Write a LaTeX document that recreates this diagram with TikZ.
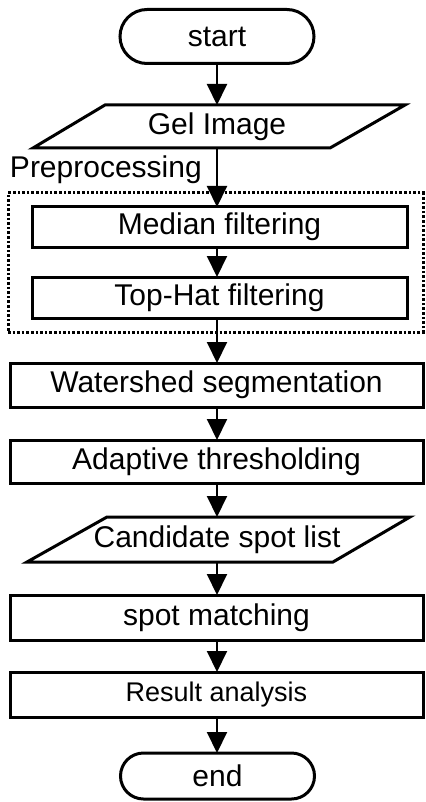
\documentclass[tikz,border=0pt]{standalone}
\usepackage{fontspec}
\setmainfont{Liberation Sans}
\usetikzlibrary{arrows.meta,shapes.misc}
\begin{document}
\begin{tikzpicture}[x=0.5pt,y=-0.5pt,
  every node/.style={font=\fontsize{15}{18}\selectfont,inner sep=0pt,outer sep=0pt},
  proc/.style={draw,line width=1.5pt,rectangle,minimum width=#1},
  proc/.default=206.5pt,
  term/.style={draw,line width=1.5pt,rounded rectangle,minimum width=97pt},
  io/.style={minimum width=120pt},
  flow/.style={line width=1pt,-{Triangle[length=10.5pt,width=10pt]}},
  grp/.style={draw,line width=1.5pt,dash pattern=on 1.3pt off 1pt,rectangle}
]
\useasboundingbox (0,0) rectangle (425,802);
% group box
\node[grp,minimum width=207.5pt,minimum height=69.5pt] (pre) at (215.5,262.5) {};
\node[anchor=base west] (prelabel) at (10,178) {Preprocessing};
% nodes
\node[term,minimum height=27pt] (start) at (217,36.5) {start};
\node[io,minimum height=21.5pt] (gel) at (217,126.5) {Gel Image};
\draw[line width=1.5pt] (105,105) -- (405,105) -- (330,148) -- (33,148) -- cycle;
\node[proc=187.5pt,minimum height=20pt] (med) at (219.5,227) {Median filtering};
\node[proc=187.5pt,minimum height=20.5pt] (top) at (219.5,297.5) {Top-Hat filtering};
\node[proc,minimum height=22pt] (ws) at (216.5,385) {Watershed segmentation};
\node[proc,minimum height=21.5pt] (ad) at (216.5,461.5) {Adaptive thresholding};
\node[io,minimum height=22.5pt] (cand) at (217,539.5) {Candidate spot list};
\draw[line width=1.5pt] (107,517) -- (410,517) -- (333,562) -- (27,562) -- cycle;
\node[proc,minimum height=22.5pt] (sm) at (216.5,617.5) {spot matching};
\node[proc,minimum height=22.5pt,font=\fontsize{13.5}{16}\selectfont] (res) at (216.5,694.5) {Result analysis};
\node[term,minimum height=23pt] (end) at (217.5,776) {end};
% connectors
\draw[flow] (start.south) -- (start.south |- gel.north);
\draw[flow] (gel.south) -- (gel.south |- med.north);
\draw[flow] (gel.south |- med.south) -- (gel.south |- top.north);
\draw[flow] (gel.south |- top.south) -- (gel.south |- ws.north);
\draw[flow] (gel.south |- ws.south) -- (gel.south |- ad.north);
\draw[flow] (gel.south |- ad.south) -- (gel.south |- cand.north);
\draw[flow] (cand.south) -- (cand.south |- sm.north);
\draw[flow] (cand.south |- sm.south) -- (cand.south |- res.north);
\draw[flow] (cand.south |- res.south) -- (cand.south |- end.north);
\end{tikzpicture}
\end{document}
